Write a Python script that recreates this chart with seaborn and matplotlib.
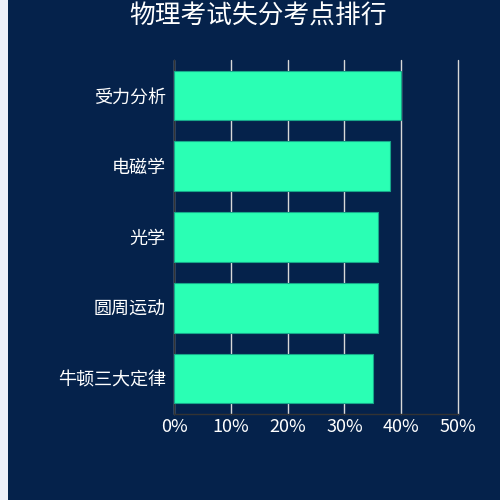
import seaborn as sns
import matplotlib.pyplot as plt
import matplotlib.ticker as ticker
import pandas as pd

# data
topics = ["受力分析", "电磁学", "光学", "圆周运动", "牛顿三大定律"]
loss_rate = [40, 38, 36, 36, 35]
x_ticks = [0, 10, 20, 30, 40, 50]

bg_color = "#05224b"
bar_color = "#2affb4"

df = pd.DataFrame({"topic": topics, "rate": loss_rate})

sns.set_style("white")
plt.rcParams["font.family"] = ["Noto Sans CJK SC", "DejaVu Sans"]

fig = plt.figure(figsize=(5, 5), dpi=100, facecolor=bg_color)
ax = fig.add_axes([0.348, 0.172, 0.568, 0.708])
ax.set_facecolor(bg_color)

# light strip on the far left
fig.patches.append(plt.Rectangle((0, 0), 0.016, 1, transform=fig.transFigure,
                                 facecolor="#eef0f8", edgecolor="none", zorder=0))

sns.barplot(data=df, x="rate", y="topic", ax=ax, color=bar_color, width=0.7,
            saturation=1, edgecolor="#17a88a", linewidth=0.8, zorder=3)

ax.set_xlim(0, 50)
ax.set_xticks(x_ticks)
ax.xaxis.set_major_formatter(ticker.FuncFormatter(lambda v, p: f"{int(v)}%"))
ax.grid(axis="x", color="#d8d8d8", linewidth=1, zorder=0)
ax.set_axisbelow(True)
for gl in ax.xaxis.get_gridlines():
    gl.set_clip_on(False)

# y ticks at category boundaries
ax.set_yticks([i - 0.5 for i in range(len(topics) + 1)], minor=True)
ax.tick_params(axis="y", which="minor", length=4, color="#333333", width=1)
ax.tick_params(axis="y", which="major", length=0, labelsize=13, labelcolor="white", pad=6)
ax.tick_params(axis="x", length=0, labelsize=13, labelcolor="white", pad=3)

for side in ["top", "right"]:
    ax.spines[side].set_visible(False)
for side in ["left", "bottom"]:
    ax.spines[side].set_color("#333333")
    ax.spines[side].set_linewidth(1)

ax.set_xlabel("")
ax.set_ylabel("")

fig.text(0.516, 0.966, "物理考试失分考点排行", ha="center", va="center",
         color="white", fontsize=18.5)

plt.savefig("out.png", dpi=100, facecolor=bg_color)
